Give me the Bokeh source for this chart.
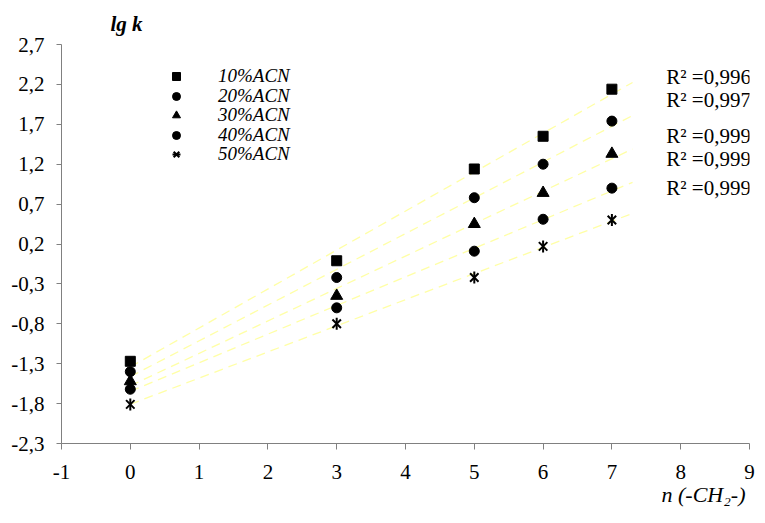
import numpy as np
from bokeh.plotting import figure
from bokeh.models import (Range1d, FixedTicker, CustomJSTickFormatter, Label,
                          Legend, LegendItem, ColumnDataSource, Title)
from bokeh.embed import file_html
from bokeh.resources import INLINE

# ---- data ----
n_ch2 = [0, 3, 5, 6, 7]
acn10 = [-1.27, -0.01, 1.14, 1.55, 2.14]
acn20 = [-1.40, -0.22, 0.78, 1.20, 1.74]
acn30 = [-1.52, -0.45, 0.45, 0.84, 1.33]
acn40 = [-1.62, -0.60, 0.11, 0.51, 0.90]
acn50 = [-1.81, -0.80, -0.22, 0.17, 0.50]
series_names = ["10%ACN", "20%ACN", "30%ACN", "40%ACN", "50%ACN"]
r2_texts = ["0,996", "0,997", "0,999", "0,999", "0,999"]
x_ticks = [-1, 0, 1, 2, 3, 4, 5, 6, 7, 8, 9]
y_ticks = [-2.3, -1.8, -1.3, -0.8, -0.3, 0.2, 0.7, 1.2, 1.7, 2.2, 2.7]

SERIF = "Liberation Serif"

p = figure(width=765, height=523, output_backend="svg", toolbar_location=None,
           x_range=Range1d(-1, 9), y_range=Range1d(-2.3, 2.7))
p.min_border_left = 61
p.min_border_right = 16
p.min_border_top = 43
p.min_border_bottom = 80
p.outline_line_color = None
p.xgrid.visible = False
p.ygrid.visible = False
p.background_fill_color = "white"
p.border_fill_color = "white"

for ax in (p.xaxis[0], p.yaxis[0]):
    ax.axis_line_color = "#808080"
    ax.major_tick_line_color = "#808080"
    ax.minor_tick_line_color = None
    ax.major_tick_in = 0
    ax.major_label_text_font = SERIF
    ax.major_label_text_font_size = "21px"
    ax.major_label_text_color = "black"

p.xaxis[0].ticker = FixedTicker(ticks=x_ticks)
p.xaxis[0].formatter = CustomJSTickFormatter(code="return tick.toFixed(0);")
p.xaxis[0].major_tick_out = 6
p.xaxis[0].major_label_standoff = 15
p.yaxis[0].ticker = FixedTicker(ticks=y_ticks)
p.yaxis[0].formatter = CustomJSTickFormatter(code="return tick.toFixed(1).replace('.', ',');")
p.yaxis[0].major_tick_out = 5
p.yaxis[0].major_label_standoff = 12

all_series = [acn10, acn20, acn30, acn40, acn50]

# trendlines (linear fits of each series)
for ys in all_series:
    k, b = np.polyfit(n_ch2, ys, 1)
    xs = [n_ch2[0], n_ch2[-1] + 0.3]
    p.line(xs, [k * x + b for x in xs], line_color="#FFFFA6", line_width=1.3,
           line_dash="9 6")

src = [ColumnDataSource(dict(x=n_ch2, y=ys)) for ys in all_series]
r1 = p.scatter("x", "y", source=src[0], marker="square", size=10, color="black")
r2 = p.scatter("x", "y", source=src[1], marker="circle", size=10, color="black")
r3 = p.scatter("x", "y", source=src[2], marker="triangle", size=12, color="black")
r4 = p.scatter("x", "y", source=src[3], marker="circle", size=10, color="black")
r5a = p.scatter("x", "y", source=src[4], marker="x", size=12, line_color="black", line_width=2)
r5b = p.scatter("x", "y", source=src[4], marker="dash", size=12, angle=np.pi / 2,
                line_color="black", line_width=2)

# legend: one Legend per row so that row positions are exact
row_renderers = [[r1], [r2], [r3], [r4], [r5a, r5b]]
row_vy = [356, 336.5, 317, 297.5, 278]
for name, rs, vy in zip(series_names, row_renderers, row_vy):
    lg = Legend(items=[LegendItem(label=name, renderers=rs)], location=(105, vy),
                border_line_color=None, background_fill_alpha=0,
                label_text_font=SERIF, label_text_font_style="italic",
                label_text_font_size="19px", label_text_color="black",
                glyph_width=20, glyph_height=20, label_height=20,
                label_standoff=32, padding=0, margin=0, spacing=0)
    p.add_layout(lg, "center")

# R^2 annotations
r2_y = [2.29, 2.0, 1.55, 1.265, 0.90]
for t, yy in zip(r2_texts, r2_y):
    p.add_layout(Label(x=7.79, y=yy, text="R² =" + t, text_font=SERIF,
                       text_font_size="21px", text_baseline="middle",
                       text_color="black"))

# axis titles as side-panel titles
p.add_layout(Title(text="lg k", align="left", offset=49, standoff=18,
                   text_font=SERIF, text_font_style="bold italic",
                   text_font_size="21px", text_color="black"), "above")
p.add_layout(Title(text="n (-CH₂-)", align="right", offset=4, standoff=0,
                   vertical_align="top", text_font=SERIF, text_font_style="italic",
                   text_font_size="22px", text_color="black"), "below")

open("out.html", "w").write(file_html(p, INLINE))
